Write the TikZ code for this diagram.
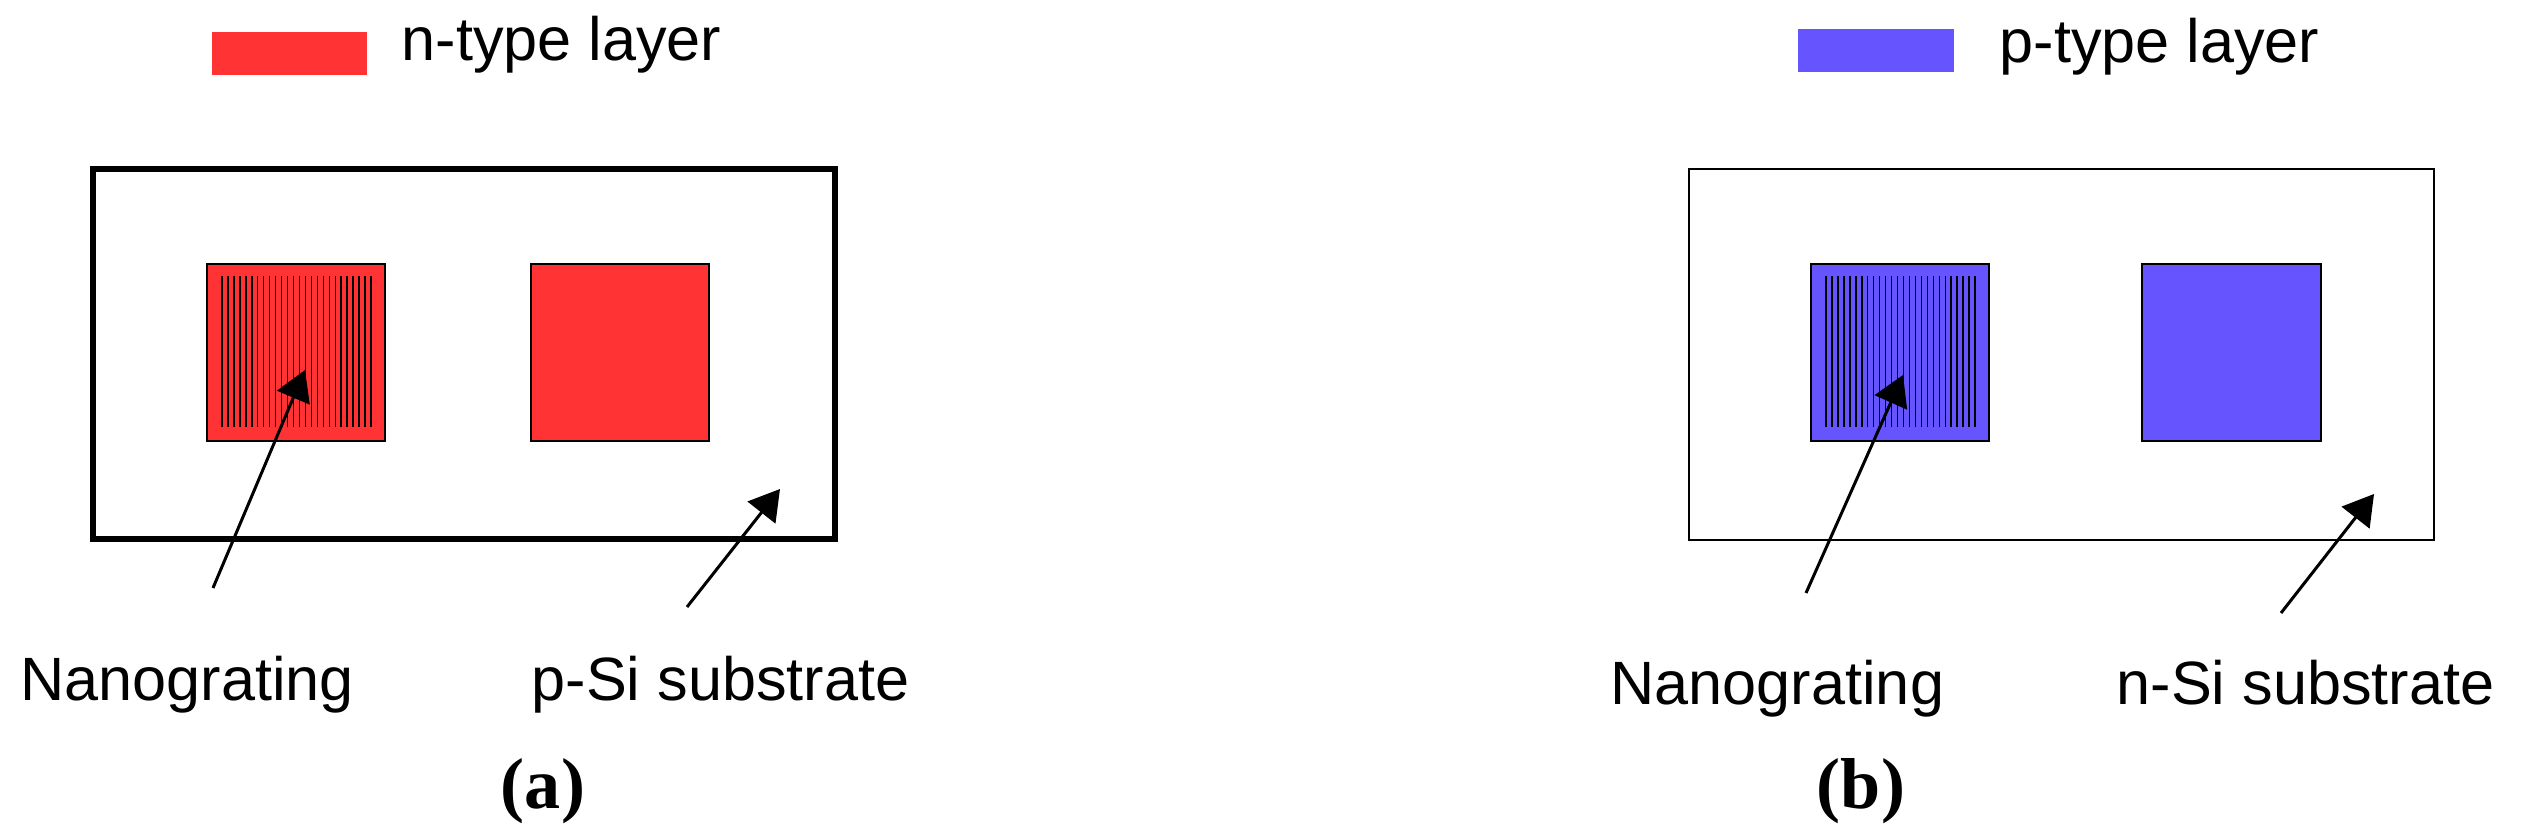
\documentclass[tikz,border=0pt]{standalone}
\usepackage{fontspec}
\setmainfont{Liberation Serif}
\setsansfont{Liberation Sans}
\usepackage{tikz}
\usetikzlibrary{arrows.meta,calc}

\definecolor{nlayer}{RGB}{255,51,51}
\definecolor{player}{RGB}{102,85,255}

\begin{document}
\begin{tikzpicture}[x=0.01cm,y=-0.01cm,
label/.style={font=\sffamily\fontsize{17.4}{20}\selectfont,inner sep=0pt,anchor=base west},
pad/.style={draw,line width=0.02cm,minimum width=1.78cm,minimum height=1.77cm,inner sep=0pt},
key/.style={minimum width=1.55cm,minimum height=0.43cm,inner sep=0pt},
grating/.style={line width=0.015cm},
pointer/.style={line width=0.03cm,-{Triangle[length=0.3cm,width=0.35cm]}},
subcap/.style={font=\rmfamily\bfseries\fontsize{20.5}{24}\selectfont,inner sep=0pt,anchor=base}]
\useasboundingbox (0,0) rectangle (2521,837);

\node[key,fill=nlayer] (keyA) at (289.5,53.5) {};
\node[label] (keyAtext) at (401,61) {n-type layer};
\node[draw,line width=0.06cm,minimum width=7.42cm,minimum height=3.70cm] (subA) at (464,354) {};
\node[pad,fill=nlayer] (ngA) at (296,352.5) {};
\node[pad,fill=nlayer] (contA) at (620,352.5) {};
\foreach \i in {0,...,25}
  \draw[grating] ([xshift=\i*0.0596cm+0.16cm,yshift=-0.13cm]ngA.north west) -- ([xshift=\i*0.0596cm+0.16cm,yshift=0.15cm]ngA.south west);
\node[label] (ngAtext) at (20,700) {Nanograting};
\node[label] (subAtext) at (531,700) {p-Si substrate};
\coordinate (ngAtail) at (213,588);
\coordinate (ngAtip) at ($(ngA)+(9,17.5)$);
\coordinate (subAtail) at (687,607);
\coordinate (subAtip) at (780,489);
\draw[pointer] (ngAtail) -- (ngAtip);
\draw[pointer] (subAtail) -- (subAtip);
\node[subcap] (capA) at (543,808) {(a)};

\node[key,fill=player] (keyB) at (1876,50.5) {};
\node[label] (keyBtext) at (1999,63) {p-type layer};
\node[draw,line width=0.025cm,minimum width=7.45cm,minimum height=3.71cm] (subB) at (2061.5,354.5) {};
\node[pad,fill=player] (ngB) at (1900,352.5) {};
\node[pad,fill=player] (contB) at (2231.5,352.5) {};
\foreach \i in {0,...,25}
  \draw[grating] ([xshift=\i*0.0596cm+0.16cm,yshift=-0.13cm]ngB.north west) -- ([xshift=\i*0.0596cm+0.16cm,yshift=0.15cm]ngB.south west);
\node[label] (ngBtext) at (1610,704) {Nanograting};
\node[label] (subBtext) at (2116,704) {n-Si substrate};
\coordinate (ngBtail) at (1806,593);
\coordinate (ngBtip) at ($(ngB)+(3,22.5)$);
\coordinate (subBtail) at (2281,613);
\coordinate (subBtip) at (2374,494);
\draw[pointer] (ngBtail) -- (ngBtip);
\draw[pointer] (subBtail) -- (subBtip);
\node[subcap] (capB) at (1861,808) {(b)};
\end{tikzpicture}
\end{document}
